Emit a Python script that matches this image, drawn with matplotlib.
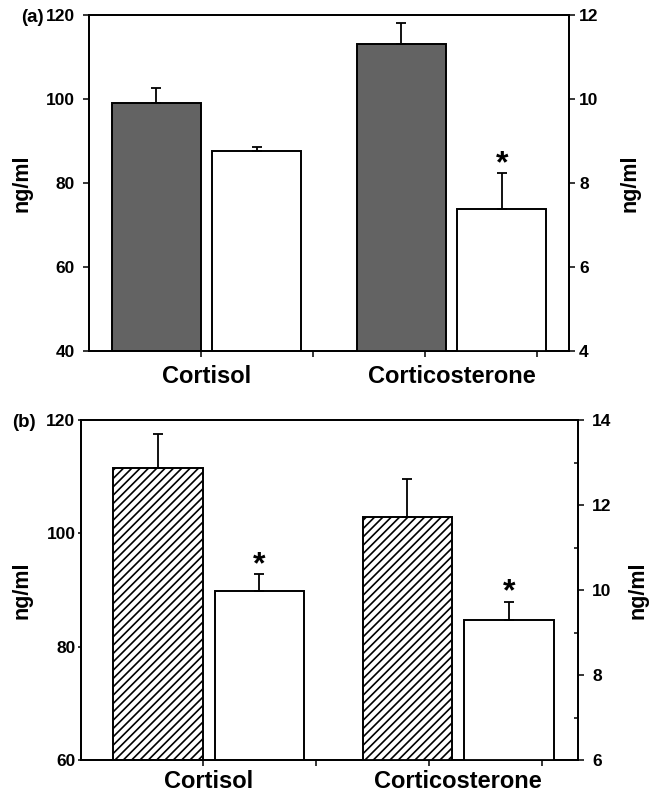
import matplotlib
matplotlib.use('Agg')
import matplotlib.pyplot as plt
from matplotlib.ticker import FixedLocator

plt.rcParams['font.family'] = ['Liberation Sans', 'DejaVu Sans']
plt.rcParams['font.weight'] = 'bold'
plt.rcParams['hatch.linewidth'] = 1.2

# categories / groups
categories = ['Cortisol', 'Corticosterone']

# panel (a): cortisol on left axis, corticosterone on right axis (ng/ml)
a_cortisol = [99.0, 87.7]
a_cortisol_err = [3.5, 0.9]
a_cort = [11.30, 7.39]
a_cort_err = [0.52, 0.84]
a_star = [False, False, False, True]

# panel (b)
b_cortisol = [111.5, 89.8]
b_cortisol_err = [6.1, 3.0]
b_cort = [11.71, 9.29]
b_cort_err = [0.89, 0.43]
b_star = [False, True, False, True]

a_left_ticks = [40, 60, 80, 100, 120]
a_right_ticks = [4, 6, 8, 10, 12]
b_left_ticks = [60, 80, 100, 120]
b_right_ticks = [6, 8, 10, 12, 14]
b_right_minor = [7, 9, 11, 13]

fig = plt.figure(figsize=(6.61, 7.94), dpi=100)


def draw_panel(rect, xmax, centers, minor_x, vals_l, errs_l, vals_r, errs_r,
               lticks, rticks, stars, fill0, hatch0, tag, lpad, rpad,
               ltick_len, lab_l, lab_r, xpad, rminor=None):
    ax = fig.add_axes(rect)
    ax2 = ax.twinx()
    w = 0.795
    for k, (axx, vals, errs) in enumerate([(ax, vals_l, errs_l), (ax2, vals_r, errs_r)]):
        for j in range(2):
            i = 2 * k + j
            fc = fill0 if j == 0 else 'white'
            h = hatch0 if j == 0 else None
            axx.bar(centers[i], vals[j], width=w, color=fc, edgecolor='black',
                    linewidth=1.4, hatch=h, zorder=2)
            axx.errorbar(centers[i], vals[j], yerr=[[0], [errs[j]]], fmt='none',
                         ecolor='black', elinewidth=1.3, capsize=3.6,
                         capthick=1.3, zorder=3)
            if stars[i]:
                axx.annotate('*', (centers[i], vals[j] + errs[j]),
                             xytext=(0, 14.4 - 0.585 * 23), textcoords='offset points',
                             ha='center', va='baseline', fontsize=23,
                             fontweight='bold')
    ax.set_xlim(0, xmax)
    ax.set_ylim(lticks[0], lticks[-1])
    ax2.set_ylim(rticks[0], rticks[-1])
    ax.set_yticks(lticks)
    ax2.set_yticks(rticks)
    if rminor:
        ax2.yaxis.set_minor_locator(FixedLocator(rminor))
        ax2.tick_params(axis='y', which='minor', direction='in', length=3, width=1.1)
    gc = [(centers[0] + centers[1]) / 2, (centers[2] + centers[3]) / 2]
    ax.set_xticks(gc)
    ax.set_xticklabels(categories, fontsize=17, fontweight='bold')
    ax.xaxis.set_minor_locator(FixedLocator(minor_x))
    ax.tick_params(axis='x', which='major', length=0, pad=xpad)
    ax.tick_params(axis='x', which='minor', direction='out', length=4.3, width=1.1)
    ax.tick_params(axis='y', direction='out', length=ltick_len, width=1.1,
                   labelsize=12.5, pad=lpad)
    ax2.tick_params(axis='y', which='major', direction='out', length=4.3, width=1.1,
                    labelsize=12.5, pad=rpad)
    for t in ax.get_yticklabels() + ax2.get_yticklabels():
        t.set_fontweight('bold')
    for s in ax.spines.values():
        s.set_linewidth(1.3)
    for s in ax2.spines.values():
        s.set_linewidth(1.3)
    ax.set_ylabel('ng/ml', fontsize=15.5, fontweight='bold')
    ax2.set_ylabel('ng/ml', fontsize=15.5, fontweight='bold')
    ax.yaxis.set_label_coords(lab_l, 0.5)
    ax2.yaxis.set_label_coords(lab_r, 0.5)
    fig.text(rect[0] - 45 / 661, rect[1] + rect[3] - 2 / 794, tag, ha='right',
             va='center', fontsize=13.5, fontweight='bold')
    return ax, ax2


# panel (a)
draw_panel([89 / 661, 1 - 351 / 794, 480 / 661, 336 / 794], 4.29,
           [0.60, 1.50, 2.79, 3.69], [1, 2, 3, 4],
           a_cortisol, a_cortisol_err, a_cort, a_cort_err,
           a_left_ticks, a_right_ticks, a_star, '#636363', None, '(a)',
           6, 3, 4.3, -0.117, 1.106, 10)

# panel (b)
draw_panel([81 / 661, 1 - 760 / 794, 497 / 661, 340 / 794], 4.40,
           [0.68, 1.58, 2.89, 3.79], [1.08, 2.08, 3.08, 4.08],
           b_cortisol, b_cortisol_err, b_cort, b_cort_err,
           b_left_ticks, b_right_ticks, b_star, 'white', '////', '(b)',
           2, 6, 2, -0.097, 1.099, 7, rminor=b_right_minor)

plt.savefig('out.png', dpi=100)
